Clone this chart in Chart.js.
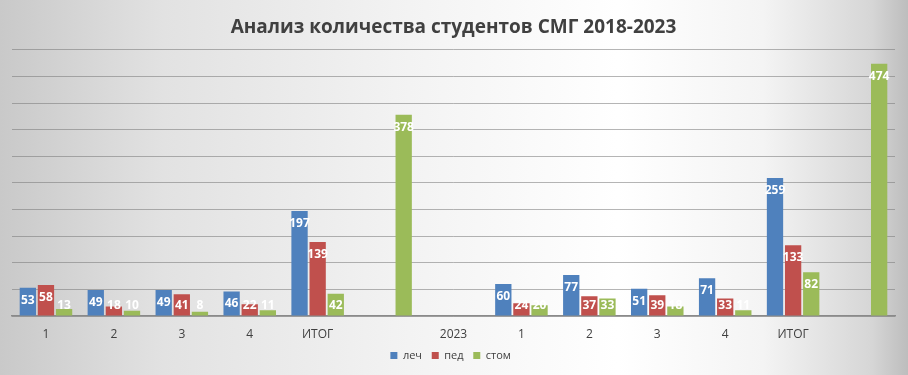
<!DOCTYPE html>
<html>
<head>
<meta charset="utf-8">
<script src="https://cdn.jsdelivr.net/npm/chart.js@4.4.1/dist/chart.umd.min.js"></script>
<style>
  html, body { margin: 0; padding: 0; }
  body {
    width: 908px; height: 375px; overflow: hidden;
    background: linear-gradient(to right, #c9c9c9 0%, #e2e2e2 18%, #f3f3f3 45%, #ffffff 68%, #f4f4f4 84%, #d6d6d6 96%, #bdbdbd 100%);
  }
  #wrap { position: relative; width: 908px; height: 375px; }
</style>
</head>
<body>
<div id="wrap"><canvas id="chart" width="908" height="375"></canvas></div>
<script>
// categories on the x axis (two blocks: 2018 and 2023)
const labels = ['1', '2', '3', '4', 'ИТОГ', '', '2023', '1', '2', '3', '4', 'ИТОГ', ''];

// series values
const lech = [53, 49, 49, 46, 197, null, null, 60, 77, 51, 71, 259, null];
const ped = [58, 18, 41, 22, 139, null, null, 24, 37, 39, 33, 133, null];
const stom = [13, 10, 8, 11, 42, 378, null, 20, 33, 18, 11, 82, 474];

const yMax = 500;
const yStep = 50;

// white value labels inside the bar tops
const valueLabels = {
  id: 'valueLabels',
  afterDatasetsDraw(chart) {
    const ctx = chart.ctx;
    ctx.save();
    ctx.fillStyle = '#ffffff';
    ctx.font = 'bold 12px "Open Sans", sans-serif';
    ctx.textAlign = 'center';
    ctx.textBaseline = 'middle';
    chart.data.datasets.forEach((ds, i) => {
      const meta = chart.getDatasetMeta(i);
      meta.data.forEach((bar, j) => {
        const v = ds.data[j];
        if (v === null || v === undefined) return;
        const y = Math.min(bar.y + 12.5, bar.base - 10);
        ctx.fillText(String(v), bar.x, y);
      });
    });
    ctx.restore();
  }
};

const defaultLegendLabels = Chart.defaults.plugins.legend.labels.generateLabels;

new Chart(document.getElementById('chart'), {
  type: 'bar',
  data: {
    labels: labels,
    datasets: [
      { label: 'леч', data: lech, backgroundColor: '#4f81bd' },
      { label: 'пед', data: ped, backgroundColor: '#c0504d' },
      { label: 'стом', data: stom, backgroundColor: '#9bbb59' }
    ]
  },
  options: {
    responsive: false,
    animation: false,
    layout: { padding: { left: 12, right: 13, bottom: 4 } },
    plugins: {
      title: {
        display: true,
        text: 'Анализ количества студентов СМГ 2018-2023',
        color: '#404040',
        font: { family: '"Open Sans", sans-serif', size: 19, weight: 'bold', lineHeight: 1.2 },
        padding: { top: 16, bottom: 11 }
      },
      legend: {
        position: 'bottom',
        labels: {
          boxWidth: 7,
          boxHeight: 7,
          padding: 4,
          color: '#404040',
          font: { family: '"Open Sans", sans-serif', size: 11 },
          generateLabels(chart) {
            return defaultLegendLabels(chart).map(item => {
              item.text = item.text + '\u00a0\u00a0';
              return item;
            });
          }
        }
      },
      tooltip: { enabled: false }
    },
    scales: {
      x: {
        grid: { display: false },
        border: { color: '#8a8a8a', width: 1.5 },
        categoryPercentage: 0.8,
        barPercentage: 1.0,
        ticks: {
          color: '#404040',
          padding: 5,
          font: { family: '"Open Sans", sans-serif', size: 12, lineHeight: 1.0 },
          maxRotation: 0,
          autoSkip: false
        }
      },
      y: {
        min: 0,
        max: yMax,
        ticks: { display: false, stepSize: yStep },
        border: { display: false },
        grid: { color: 'rgba(120,120,120,0.55)', lineWidth: 1, drawTicks: false }
      }
    }
  },
  plugins: [valueLabels]
});
</script>
</body>
</html>
